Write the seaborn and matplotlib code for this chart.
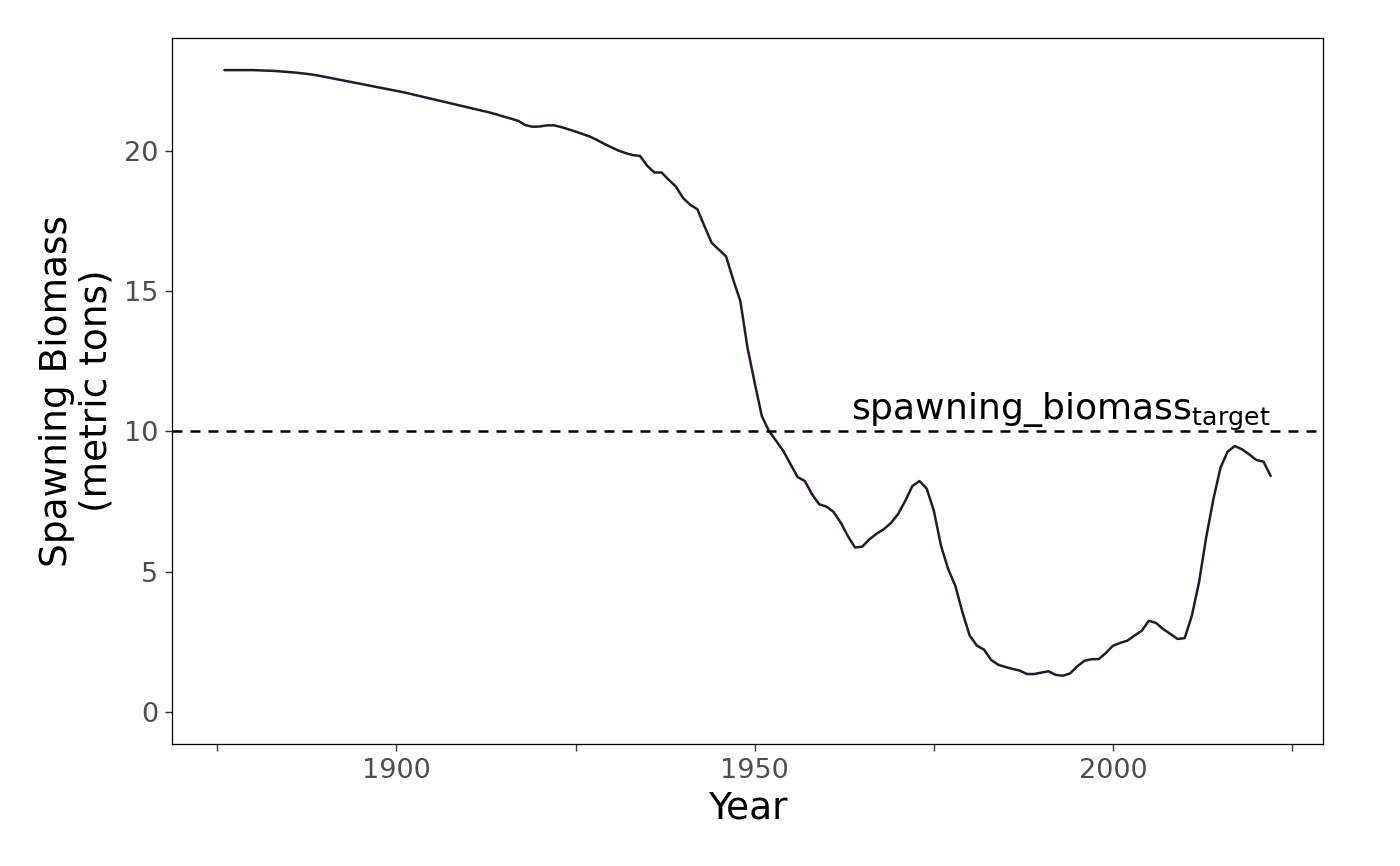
import numpy as np
import pandas as pd
import matplotlib
matplotlib.use('Agg')
import matplotlib.pyplot as plt
import seaborn as sns

# ── data ──────────────────────────────────────────────────────
years = np.arange(1876, 2023)
spawning_biomass = [
    22.88, 22.88, 22.88, 22.88, 22.88, 22.87, 22.86, 22.85, 22.83, 22.81,   # 1876-1885
    22.79, 22.76, 22.73, 22.69, 22.64, 22.59, 22.54, 22.49, 22.44, 22.39,   # 1886-1895
    22.34, 22.29, 22.24, 22.19, 22.14, 22.09, 22.03, 21.97, 21.91, 21.85,   # 1896-1905
    21.79, 21.73, 21.67, 21.61, 21.55, 21.49, 21.43, 21.37, 21.30, 21.22,   # 1906-1915
    21.15, 21.07, 20.92, 20.86, 20.87, 20.91, 20.91, 20.85, 20.77, 20.69,   # 1916-1925
    20.60, 20.51, 20.39, 20.25, 20.13, 20.01, 19.92, 19.85, 19.82, 19.47,   # 1926-1935
    19.23, 19.23, 18.97, 18.73, 18.32, 18.08, 17.92, 17.31, 16.72, 16.48,   # 1936-1945
    16.24, 15.41, 14.64, 12.98, 11.73, 10.54, 10.01, 9.66, 9.30, 8.83,      # 1946-1955
    8.37, 8.23, 7.76, 7.40, 7.32, 7.13, 6.75, 6.27, 5.86, 5.89,             # 1956-1965
    6.15, 6.35, 6.51, 6.73, 7.05, 7.52, 8.05, 8.23, 7.96, 7.17,             # 1966-1975
    5.92, 5.09, 4.49, 3.54, 2.72, 2.36, 2.22, 1.85, 1.68, 1.60,             # 1976-1985
    1.53, 1.47, 1.35, 1.35, 1.40, 1.45, 1.32, 1.29, 1.37, 1.62,             # 1986-1995
    1.82, 1.88, 1.88, 2.10, 2.36, 2.46, 2.54, 2.72, 2.89, 3.25,             # 1996-2005
    3.17, 2.95, 2.78, 2.60, 2.63, 3.43, 4.62, 6.22, 7.58, 8.71,             # 2006-2015
    9.28, 9.48, 9.36, 9.18, 8.98, 8.92, 8.41,                               # 2016-2022
]
target = 10
x_ticks = [1875, 1900, 1925, 1950, 1975, 2000, 2025]
x_tick_labels = ['', '1900', '', '1950', '', '2000', '']
y_ticks = [0, 5, 10, 15, 20]

df = pd.DataFrame({'Year': years, 'Biomass': spawning_biomass})

# ── style ─────────────────────────────────────────────────────
sns.set_theme(style='white')
plt.rcParams['font.family'] = ['DejaVu Sans']
plt.rcParams['mathtext.fontset'] = 'dejavusans'

fig = plt.figure(figsize=(14, 8.66), dpi=100)
ax = fig.add_axes([0.1229, 0.1409, 0.8221, 0.8152])

sns.lineplot(data=df, x='Year', y='Biomass', color='#251A2D', lw=1.8, ax=ax)
ax.axhline(target, color='black', lw=1.8, dashes=(4, 3.2))
ax.text(2022, target + 0.42, r'spawning_biomass$_{\mathrm{target}}$',
        ha='right', va='baseline', fontsize=26, color='black')

pad_x = 0.05 * (years.max() - years.min())
ax.set_xlim(years.min() - pad_x, years.max() + pad_x)
ax.set_ylim(-0.05 * max(spawning_biomass), 1.05 * max(spawning_biomass))

ax.set_xticks(x_ticks)
ax.set_xticklabels(x_tick_labels)
ax.set_yticks(y_ticks)
ax.tick_params(axis='both', which='major', length=5, width=1, color='#333333',
               labelsize=19.5, labelcolor='#4D4D4D', pad=5, bottom=True, left=True)

for s in ax.spines.values():
    s.set_color('black')
    s.set_linewidth(0.9)

ax.set_xlabel('Year', fontsize=27, labelpad=5, color='black')
ax.set_ylabel('Spawning Biomass\n(metric tons)', fontsize=27, labelpad=7,
              linespacing=1.1, color='black')
ax.grid(False)

fig.savefig('out.png', dpi=100)
